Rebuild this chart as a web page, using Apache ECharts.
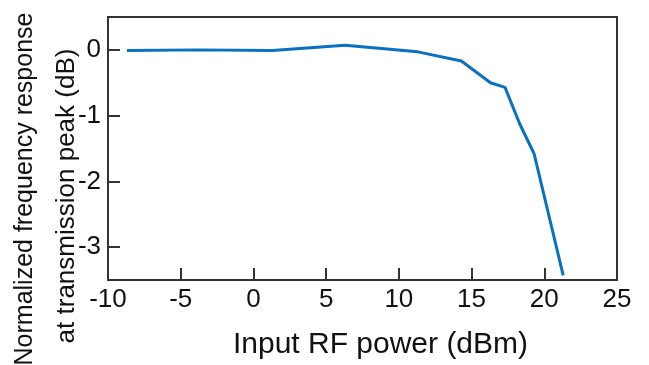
<!DOCTYPE html>
<html>
<head>
<meta charset="utf-8">
<script src="https://cdn.jsdelivr.net/npm/echarts@6/dist/echarts.min.js"></script>
<style>
  html, body { margin: 0; padding: 0; background: #fff; }
  #chart { width: 649px; height: 365px; }
</style>
</head>
<body>
<div id="chart"></div>
<script>
// input RF power (dBm) and normalized response at transmission peak (dB)
const powerDbm = [-8.7, -3.7, 1.3, 6.3, 11.3, 14.3, 16.3, 17.3, 18.3, 19.3, 21.3];
const responseDb = [-0.01, 0.0, -0.01, 0.07, -0.03, -0.17, -0.50, -0.57, -1.12, -1.58, -3.43];

const xTicks = [-10, -5, 0, 5, 10, 15, 20, 25];
const yTicks = [0, -1, -2, -3];

const FONT = 'Liberation Sans, Arial, sans-serif';
const AXIS_COLOR = '#333';
const TEXT_COLOR = '#111';

const chart = echarts.init(document.getElementById('chart'), null, { renderer: 'canvas' });

chart.setOption({
  animation: false,
  grid: { left: 108, right: 32, top: 17, bottom: 83, show: true, borderColor: AXIS_COLOR, borderWidth: 2 },
  xAxis: {
    type: 'value',
    min: xTicks[0],
    max: xTicks[xTicks.length - 1],
    interval: 5,
    name: 'Input RF power (dBm)',
    nameLocation: 'middle',
    nameGap: 50,
    nameTextStyle: { fontFamily: FONT, fontSize: 30, color: TEXT_COLOR, padding: [0, 0, 0, 36] },
    axisLine: { show: true, onZero: false, lineStyle: { color: AXIS_COLOR, width: 2 } },
    axisTick: { show: true, inside: true, length: 12, lineStyle: { color: AXIS_COLOR, width: 2 } },
    axisLabel: { fontFamily: FONT, fontSize: 26, color: TEXT_COLOR, margin: 7 },
    splitLine: { show: false },
  },
  yAxis: {
    type: 'value',
    min: -3.5,
    max: 0.5,
    splitNumber: 4,
    axisLine: { show: true, onZero: false, lineStyle: { color: AXIS_COLOR, width: 2 } },
    axisTick: { show: true, inside: true, length: 12, lineStyle: { color: AXIS_COLOR, width: 2 } },
    axisLabel: { fontFamily: FONT, fontSize: 26, color: TEXT_COLOR, margin: 7, customValues: yTicks },
    splitLine: { show: false },
  },
  graphic: [{
    type: 'text',
    x: 25,
    y: 189,
    rotation: Math.PI / 2,
    style: {
      text: 'Normalized frequency response',
      font: '25px ' + FONT,
      fill: TEXT_COLOR,
      align: 'center',
      verticalAlign: 'middle',
    },
  }, {
    type: 'text',
    x: 67,
    y: 196,
    rotation: Math.PI / 2,
    style: {
      text: 'at transmission peak (dB)',
      font: '26px ' + FONT,
      fill: TEXT_COLOR,
      align: 'center',
      verticalAlign: 'middle',
    },
  }],
  series: [{
    type: 'line',
    data: powerDbm.map((x, i) => [x, responseDb[i]]),
    showSymbol: false,
    lineStyle: { color: '#0a70c0', width: 3 },
  }],
});
</script>
</body>
</html>
